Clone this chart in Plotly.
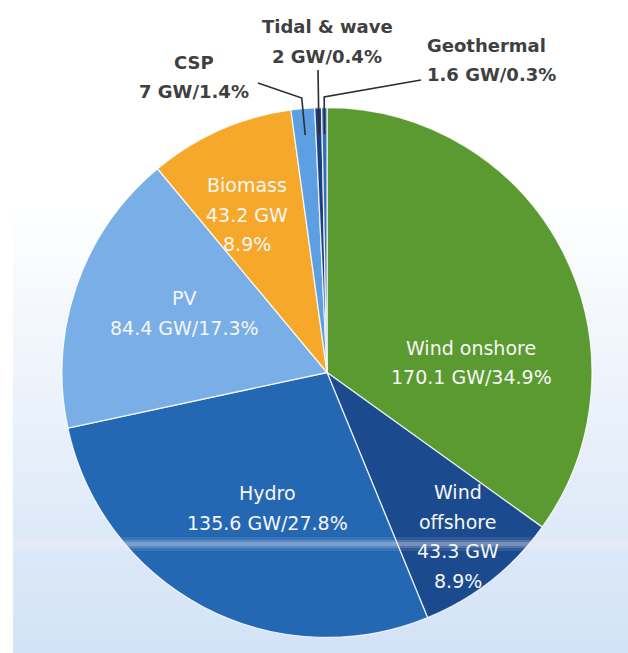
import math
import plotly.graph_objects as go

W, H = 628, 653

# ---------------- data ----------------
sources = ["Wind onshore", "Wind offshore", "Hydro", "PV", "Biomass",
           "CSP", "Tidal & wave", "Geothermal"]
capacity_gw = [170.1, 43.3, 135.6, 84.4, 43.2, 7, 2, 1.6]

# label line layouts (text content)
label_lines = [
    ["Wind onshore", "{gw} GW/{pct}%"],
    ["Wind", "offshore", "{gw} GW", "{pct}%"],
    ["Hydro", "{gw} GW/{pct}%"],
    ["PV", "{gw} GW/{pct}%"],
    ["Biomass", "{gw} GW", "{pct}%"],
    ["CSP", "{gw} GW/{pct}%"],
    ["Tidal & wave", "{gw} GW/{pct}%"],
    ["Geothermal", "{gw} GW/{pct}%"],
]

# ---------------- styles ----------------
colors = ["#5b9a31", "#1b4b8e", "#2467b3", "#7aaee6", "#f6a82a",
          "#5c9fe2", "#1d3f7e", "#2f6fc0"]
inside = [True, True, True, True, True, False, False, False]
# first-line centre of each label (pixels) and horizontal alignment
label_anchor = [(471, 348, "center"), (458, 492, "center"), (267, 493, "center"),
                (184, 298, "center"), (247, 185, "center"), (194, 62, "center"),
                (327, 27, "center"), (425, 45, "left")]
line_gap = 29.5
FONT = "DejaVu Sans"

# pie placement (pixels)
PX0, PX1, PY0, PY1 = 62, 592, 107, 638
cx, cy = (PX0 + PX1) / 2, (PY0 + PY1) / 2
R = min(PX1 - PX0, PY1 - PY0) / 2

# leader lines for outside labels: start point near text, elbow radius factor
leader_start = {5: (258, 83), 6: (318, 70), 7: (421, 80)}
leader_elbow = {5: 1.04, 6: None, 7: 1.04}
tip_factor = 0.9


def to_paper(x, y):
    return x / W, 1 - y / H


fig = go.Figure()
fig.add_trace(go.Pie(
    labels=sources, values=capacity_gw, sort=False, direction="clockwise",
    rotation=0, textinfo="none", hoverinfo="label+value+percent",
    marker=dict(colors=colors, line=dict(color="rgba(255,255,255,0.8)", width=1.3)),
    domain=dict(x=[PX0 / W, PX1 / W], y=[1 - PY1 / H, 1 - PY0 / H]),
    showlegend=False,
))

total = sum(capacity_gw)
mids = []
cum = 0.0
for v in capacity_gw:
    mids.append((cum + v / 2) / total * 2 * math.pi)
    cum += v


def polar(a, r):
    return cx + r * math.sin(a), cy - r * math.cos(a)


annotations = []
for i, (name, v) in enumerate(zip(sources, capacity_gw)):
    pct = f"{v / total * 100:.1f}"
    gw = f"{v:g}"
    x0, y0, align = label_anchor[i]
    for k, line in enumerate(label_lines[i]):
        xp, yp = to_paper(x0, y0 + k * line_gap)
        txt = line.format(gw=gw, pct=pct)
        annotations.append(dict(
            x=xp, y=yp, xref="paper", yref="paper", showarrow=False,
            text=txt if inside[i] else "<b>" + txt + "</b>",
            xanchor=align, yanchor="middle",
            font=dict(family=FONT, size=19 if inside[i] else 18,
                      color="#f6f6f6" if inside[i] else "#404040"),
        ))

shapes = []
# background gradient (white at top to pale blue at bottom)
top_y, bot_y = 200, H
n = 40
c0 = (255, 255, 255)
c1 = (210, 226, 246)
for k in range(n):
    ya = top_y + (bot_y - top_y) * k / n
    yb = top_y + (bot_y - top_y) * (k + 1) / n + 1
    t = (k + 0.5) / n
    col = tuple(round(c0[j] + (c1[j] - c0[j]) * t) for j in range(3))
    shapes.append(dict(type="rect", xref="paper", yref="paper",
                       x0=13 / W, x1=1, y0=1 - min(yb, H) / H, y1=1 - ya / H,
                       fillcolor=f"rgb{col}", line=dict(width=0), layer="below"))
# pale horizontal band (scan artefact)
for (ya, yb, op) in [(537, 551, 0.1), (540, 548, 0.18), (542, 546, 0.22)]:
    shapes.append(dict(type="rect", xref="paper", yref="paper",
                       x0=13 / W, x1=1, y0=1 - yb / H, y1=1 - ya / H,
                       fillcolor="#f4ecf4", opacity=op, line=dict(width=0), layer="above"))

# leader lines
for i, start in leader_start.items():
    pts = [start]
    if leader_elbow[i]:
        pts.append(polar(mids[i], leader_elbow[i] * R))
    pts.append(polar(mids[i], tip_factor * R))
    path = ""
    for j, (x, y) in enumerate(pts):
        xp, yp = to_paper(x, y)
        path += ("M" if j == 0 else "L") + f"{xp:.5f},{yp:.5f} "
    shapes.append(dict(type="path", xref="paper", yref="paper", path=path.strip(),
                       line=dict(color="#2e2e2e", width=1.6), layer="above"))

fig.update_layout(
    width=W, height=H, margin=dict(l=0, r=0, t=0, b=0),
    paper_bgcolor="white", plot_bgcolor="white",
    annotations=annotations, shapes=shapes,
)

fig.write_html("out.html")
